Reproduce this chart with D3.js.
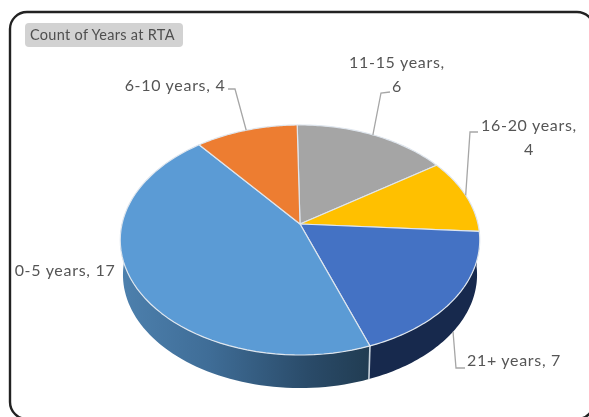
<!DOCTYPE html>
<html lang="en">
<head>
  <meta charset="UTF-8">
  <title>Count of Years at RTA</title>
  <style>
    html, body { margin: 0; padding: 0; background: #fff; overflow: hidden; }
    svg { display: block; filter: blur(0.55px); }
    text { font-family: Lato, "Open Sans", sans-serif; fill: #555; }
  </style>
</head>
<body>
  <div id="chart"></div>
  <script src="https://d3js.org/d3.v7.min.js"></script>
  <script>
    // clockwise from 12 o'clock, same order as the slices in the picture
    const categories = ["11-15 years", "16-20 years", "21+ years", "0-5 years", "6-10 years"];
    const counts = [6, 4, 7, 17, 4];
    const colors = ["#a5a5a5", "#ffc000", "#4472c4", "#5b9bd5", "#ed7d31"];
    const chartTitle = "Count of Years at RTA";

    const width = 589;
    const height = 417;

    const svg = d3.select("#chart").append("svg")
      .attr("width", width)
      .attr("height", height);

    // tilted disc: flat circle pushed through a small perspective
    const cx = 300, cy = 224, rx = 178, ry = 112.8, persp = -0.139;
    const depth = 35, shrink = 0.985;
    const rotation = -0.018;

    function project(angle, r, bottom) {
      const u = Math.sin(angle) * r;
      const v = -Math.cos(angle) * r;
      const w = 1 + persp * v;
      const s = bottom ? shrink : 1;
      return [cx + s * rx * u / w, cy + (bottom ? depth : 0) + s * ry * v / w];
    }

    function arcPoints(a0, a1, bottom) {
      return d3.range(0, 61).map(i => project(a0 + (a1 - a0) * i / 60, 1, bottom));
    }

    const line = d3.line();
    const slices = d3.pie().sort(null).value(d => d)
      .startAngle(rotation).endAngle(rotation + Math.PI * 2)(counts);

    const defs = svg.append("defs");
    const wallGrad = defs.append("linearGradient")
      .attr("id", "wall-light")
      .attr("gradientUnits", "userSpaceOnUse")
      .attr("x1", cx - rx).attr("x2", project(slices[2].endAngle, 1)[0])
      .attr("y1", 0).attr("y2", 0);
    wallGrad.append("stop").attr("offset", "0%").attr("stop-color", "#4d80ad");
    wallGrad.append("stop").attr("offset", "35%").attr("stop-color", "#3f6d97");
    wallGrad.append("stop").attr("offset", "75%").attr("stop-color", "#2a4b69");
    wallGrad.append("stop").attr("offset", "100%").attr("stop-color", "#213c52");

    // frame runs off the right and bottom of the picture
    svg.append("rect")
      .attr("x", 10).attr("y", 12)
      .attr("width", 584).attr("height", 407)
      .attr("rx", 17)
      .attr("fill", "#fff")
      .attr("stroke", "#222")
      .attr("stroke-width", 2.4);

    // title chip
    svg.append("rect")
      .attr("x", 25).attr("y", 23)
      .attr("width", 158).attr("height", 24)
      .attr("rx", 4)
      .attr("fill", "#d2d2d2");
    svg.append("text")
      .attr("x", 30).attr("y", 40)
      .attr("font-size", 14.5)
      .attr("letter-spacing", 0.3)
      .style("fill", "#4f4f4f")
      .text(chartTitle);

    // side walls, only the two front slices show one
    const wallFills = { 2: "#17294d", 3: "url(#wall-light)" };
    const wallRange = {
      2: [slices[2].startAngle, slices[2].endAngle],
      3: [slices[3].startAngle, Math.PI * 1.5]
    };
    [3, 2].forEach(i => {
      const [a0, a1] = wallRange[i];
      const pts = arcPoints(a0, a1, false).concat(arcPoints(a0, a1, true).reverse());
      svg.append("path")
        .attr("d", line(pts) + "Z")
        .attr("fill", wallFills[i]);
    });

    // edge between the two walls
    const seam = slices[2].endAngle;
    svg.append("path")
      .attr("d", line([project(seam, 1, false), project(seam, 1, true)]))
      .attr("stroke", "#c9d3dc")
      .attr("stroke-width", 1.6)
      .attr("fill", "none");

    // top face
    svg.append("g")
      .selectAll("path")
      .data(slices)
      .enter()
      .append("path")
      .attr("d", d => line([[cx, cy]].concat(arcPoints(d.startAngle, d.endAngle, false))) + "Z")
      .attr("fill", (d, i) => colors[i])
      .attr("stroke", "#dfe6ee")
      .attr("stroke-width", 1.2)
      .attr("stroke-linejoin", "round");

    // leader elbows and label anchors, in slice order
    const labelLayout = [
      { x: 397, y: 68, lines: 2, elbow: [[390, 92], [381, 93]] },
      { x: 529, y: 131, lines: 2, elbow: [[478, 132], [470, 132]] },
      { x: 514, y: 366, lines: 1, elbow: [[465, 368], [456, 368]], bottom: true },
      { x: 65, y: 276, lines: 1 },
      { x: 175, y: 91, lines: 1, elbow: [[228, 89], [235, 89]] }
    ];

    labelLayout.forEach((l, i) => {
      const mid = (slices[i].startAngle + slices[i].endAngle) / 2;
      if (l.elbow) {
        svg.append("path")
          .attr("d", line(l.elbow.concat([project(mid, 1, l.bottom)])))
          .attr("fill", "none")
          .attr("stroke", "#a6a6a6")
          .attr("stroke-width", 1.3);
      }
      const label = svg.append("text")
        .attr("text-anchor", "middle")
        .attr("font-size", 16)
        .attr("letter-spacing", 0.7);
      if (l.lines === 2) {
        label.append("tspan").attr("x", l.x).attr("y", l.y).text(categories[i] + ",");
        label.append("tspan").attr("x", l.x).attr("y", l.y + 24).text(counts[i]);
      } else {
        label.attr("x", l.x).attr("y", l.y).text(categories[i] + ", " + counts[i]);
      }
    });
  </script>
</body>
</html>
